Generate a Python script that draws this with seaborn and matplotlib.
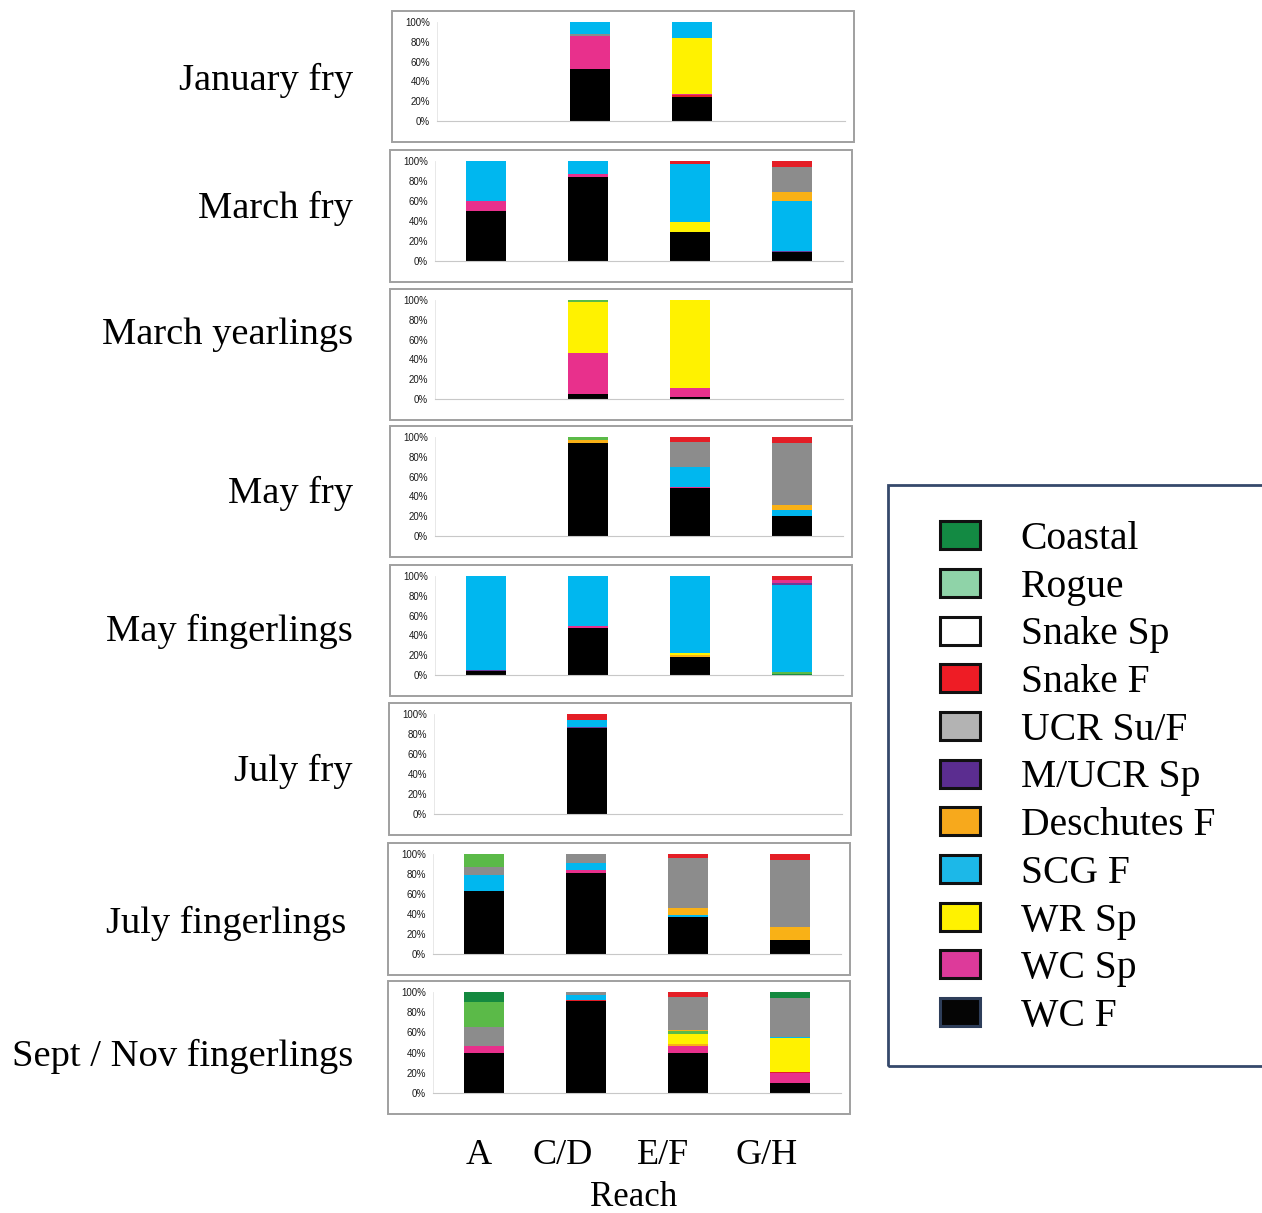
import matplotlib
matplotlib.use("Agg")
import matplotlib.pyplot as plt
from matplotlib.patches import Rectangle, Patch
import pandas as pd
import seaborn as sns

# ---------------------------------------------------------------- data
reaches = ["A", "C/D", "E/F", "G/H"]
stocks = ["Coastal", "Rogue", "Snake Sp", "Snake F", "UCR Su/F", "M/UCR Sp",
          "Deschutes F", "SCG F", "WR Sp", "WC Sp", "WC F"]
bar_colors = ["#14893f", "#5bba48", "#ffffff", "#e41e26", "#8c8c8c", "#6a3d9a",
              "#f9b116", "#00b7ef", "#fff200", "#e8308c", "#000000"]
key_colors = ["#138a43", "#8fd3a8", "#ffffff", "#ee1c25", "#b3b3b3", "#5b2d90",
              "#f7a91c", "#1cb8e8", "#fff200", "#dd3a9a", "#050505"]

groups = ["January fry", "March fry", "March yearlings", "May fry",
          "May fingerlings", "July fry", "July fingerlings", "Sept / Nov fingerlings"]

# stock composition (%) of each reach, listed from the bottom of the bar upward
january_fry = {
    "C/D": [("WC F", 53), ("WC Sp", 33), ("UCR Su/F", 2), ("SCG F", 12)],
    "E/F": [("WC F", 24), ("Snake F", 2), ("WC Sp", 1), ("WR Sp", 57), ("SCG F", 16)],
}
march_fry = {
    "A": [("WC F", 50), ("WC Sp", 10), ("SCG F", 40)],
    "C/D": [("WC F", 84), ("WC Sp", 3), ("SCG F", 13)],
    "E/F": [("WC F", 29), ("WR Sp", 10), ("SCG F", 58), ("Snake F", 3)],
    "G/H": [("WC F", 9), ("M/UCR Sp", 1.5), ("SCG F", 49.5), ("Deschutes F", 9),
            ("UCR Su/F", 25), ("Snake F", 6)],
}
march_yearlings = {
    "C/D": [("WC F", 5), ("WC Sp", 41), ("WR Sp", 52), ("Rogue", 2)],
    "E/F": [("WC F", 2), ("WC Sp", 9), ("WR Sp", 89)],
}
may_fry = {
    "C/D": [("WC F", 94), ("Deschutes F", 3), ("Rogue", 3)],
    "E/F": [("WC F", 48), ("WC Sp", 1), ("SCG F", 21), ("UCR Su/F", 25), ("Snake F", 5)],
    "G/H": [("WC F", 20), ("SCG F", 6), ("Deschutes F", 5), ("UCR Su/F", 63), ("Snake F", 6)],
}
may_fingerlings = {
    "A": [("WC F", 4), ("M/UCR Sp", 1.5), ("SCG F", 94.5)],
    "C/D": [("WC F", 47), ("WC Sp", 2), ("SCG F", 51)],
    "E/F": [("WC F", 18), ("Deschutes F", 2), ("WR Sp", 2), ("SCG F", 78)],
    "G/H": [("Coastal", 1.5), ("Rogue", 1.5), ("SCG F", 88), ("M/UCR Sp", 2),
            ("WC Sp", 3), ("Snake F", 4)],
}
july_fry = {
    "C/D": [("WC F", 86), ("M/UCR Sp", 1), ("SCG F", 7), ("Snake F", 6)],
}
july_fingerlings = {
    "A": [("WC F", 63), ("SCG F", 16), ("UCR Su/F", 8), ("Rogue", 13)],
    "C/D": [("WC F", 81), ("WC Sp", 3), ("SCG F", 7), ("UCR Su/F", 9)],
    "E/F": [("WC F", 37), ("SCG F", 2), ("Deschutes F", 7), ("UCR Su/F", 50), ("Snake F", 4)],
    "G/H": [("WC F", 14), ("Deschutes F", 13), ("UCR Su/F", 67), ("Snake F", 6)],
}
sept_nov_fingerlings = {
    "A": [("WC F", 40), ("WC Sp", 7), ("UCR Su/F", 18), ("Rogue", 25), ("Coastal", 10)],
    "C/D": [("WC F", 91), ("Snake F", 1.5), ("SCG F", 5), ("UCR Su/F", 2.5)],
    "E/F": [("WC F", 40), ("WC Sp", 7), ("Deschutes F", 2), ("WR Sp", 9), ("Rogue", 3),
            ("Deschutes F", 1), ("UCR Su/F", 33), ("Snake F", 5)],
    "G/H": [("WC F", 10), ("WC Sp", 10), ("Snake F", 1), ("WR Sp", 33), ("SCG F", 1),
            ("UCR Su/F", 39), ("Coastal", 6)],
}
compositions = [january_fry, march_fry, march_yearlings, may_fry,
                may_fingerlings, july_fry, july_fingerlings, sept_nov_fingerlings]

# ---------------------------------------------------------------- long table
rows = []
for group, comp in zip(groups, compositions):
    for reach, segments in comp.items():
        top = 0.0
        for layer, (stock, pct) in enumerate(segments):
            top += pct
            rows.append(dict(group=group, reach=reach, stock=stock, layer=layer, top=top))
df = pd.DataFrame(rows)

# ---------------------------------------------------------------- figure
W, H = 1262, 1213
sns.set_style("white")
plt.rcParams["font.family"] = ["Liberation Serif", "DejaVu Serif"]
plt.rcParams["text.color"] = "black"
fig = plt.figure(figsize=(W / 100, H / 100), dpi=100)

bar_pal = dict(zip(stocks, bar_colors))

# panel frames in pixels: left, top, right, bottom
frames = [(392, 11, 854, 142), (390, 150, 852, 282), (390, 289, 852, 420),
          (390, 426, 852, 557), (390, 565, 852, 696), (389, 703, 851, 835),
          (388, 843, 850, 975), (388, 981, 850, 1114)]
title_y = [80, 208, 335, 493, 631, 771, 923, 1056]
title_x = [353, 353, 353, 353, 353, 353, 346, 353]

for group, (l, t, r, b), ty, tx in zip(groups, frames, title_y, title_x):
    fig.patches.append(Rectangle((l / W, 1 - b / H), (r - l) / W, (b - t) / H,
                                 transform=fig.transFigure, fill=False,
                                 edgecolor="#a0a0a0", linewidth=1.4))
    al, ar, at, ab = l + 45, r - 9, t + 11, b - 21
    ax = fig.add_axes([al / W, 1 - ab / H, (ar - al) / W, (ab - at) / H])
    sub = df[df.group == group]
    # overlay cumulative tops from the highest layer down to build the stacks
    for layer in sorted(sub.layer.unique(), reverse=True):
        lay = sub[sub.layer == layer]
        sns.barplot(data=lay, x="reach", y="top", hue="stock", order=reaches,
                    hue_order=stocks, palette=bar_pal, dodge=False, width=0.4,
                    saturation=1, linewidth=0, errorbar=None, legend=False, ax=ax)
    ax.set_xlim(-0.5, 3.5)
    ax.set_ylim(0, 100)
    ax.set_xlabel("")
    ax.set_ylabel("")
    ax.set_xticks([-0.5, 0.5, 1.5, 2.5, 3.5])
    ax.set_xticklabels([])
    ax.set_yticks(range(0, 101, 20))
    ax.set_yticklabels([f"{v}%" for v in range(0, 101, 20)],
                       fontsize=7, family="Liberation Sans", color="#1a1a1a")
    ax.tick_params(axis="x", length=3, color="#c8c8c8", width=0.8, direction="out")
    ax.tick_params(axis="y", length=0, pad=5)
    for side in ["top", "right"]:
        ax.spines[side].set_visible(False)
    ax.spines["left"].set_color("#e4e4e4")
    ax.spines["left"].set_linewidth(0.6)
    ax.spines["bottom"].set_color("#c8c8c8")
    ax.spines["bottom"].set_linewidth(0.8)
    ax.set_facecolor("white")
    fig.text(tx / W, 1 - ty / H, group, ha="right", va="center", fontsize=27.7,
             color="black")

# reach labels under the last panel
for name, x in zip(reaches, [479, 563, 663, 767]):
    fig.text(x / W, 1 - 1155 / H, name, ha="center", va="center", fontsize=26,
             color="black")
fig.text(634 / W, 1 - 1198 / H, "Reach", ha="center", va="center", fontsize=25,
         color="black")

# stock key
fig.patches.append(Rectangle((888 / W, 1 - 1066 / H), 400 / W, (1066 - 485) / H,
                             transform=fig.transFigure, fill=False,
                             edgecolor="#35496b", linewidth=2.0, clip_on=False))
handles = [Patch(facecolor=c, edgecolor="#111111" if s != "WC F" else "#2e3e5a",
                 linewidth=2.2, label=s) for s, c in zip(stocks, key_colors)]
fig.legend(handles=handles, loc="upper left", bbox_to_anchor=(940 / W, 1 - 521 / H),
           frameon=False, fontsize=28.5, handlelength=1.01, handleheight=0.71,
           handletextpad=1.03, labelspacing=0.27, borderpad=0, borderaxespad=0,
           labelcolor="black")

fig.savefig("out.png", dpi=100, facecolor="white")
